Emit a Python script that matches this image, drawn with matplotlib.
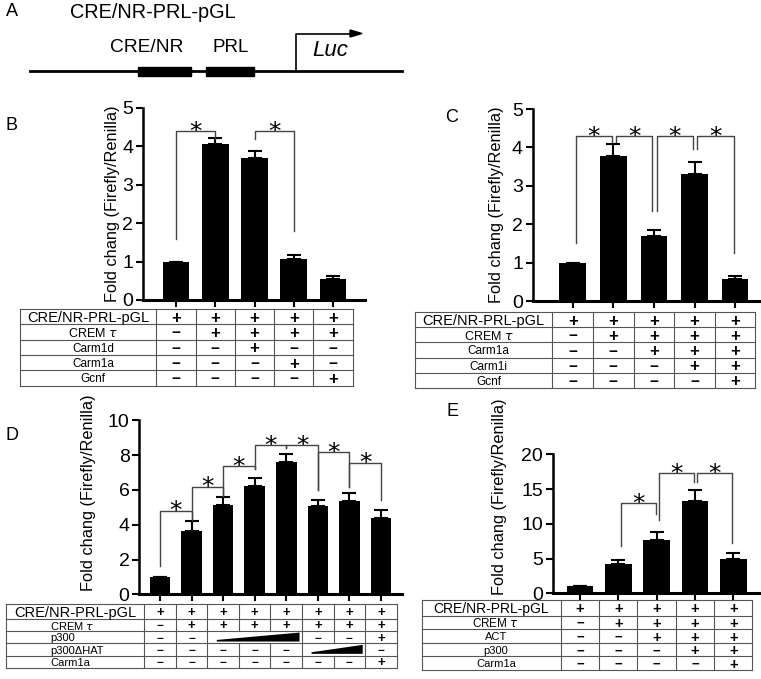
import numpy as np
import matplotlib
matplotlib.use('Agg')
import matplotlib.pyplot as plt
from matplotlib.patches import Rectangle, Polygon

W, H = 761, 679
plt.rcParams['font.family'] = ['Liberation Sans', 'DejaVu Sans']

# ---- data ----
B_rows = ['CRE/NR-PRL-pGL', 'CREM $\\tau$', 'Carm1d', 'Carm1a', 'Gcnf']
B_table = ['+++++', '-++++', '--+--', '---+-', '----+']
B_mean = [1.0, 4.07, 3.70, 1.07, 0.55]
B_sem = [0.0, 0.15, 0.18, 0.10, 0.08]
# (bar i, bar j, bracket top, left leg end, right leg end)
B_sig = [(0, 1, 4.4, 1.6, 4.2), (2, 3, 4.4, 4.2, 1.8)]

C_rows = ['CRE/NR-PRL-pGL', 'CREM $\\tau$', 'Carm1a', 'Carm1i', 'Gcnf']
C_table = ['+++++', '-++++', '--+++', '---++', '----+']
C_mean = [1.0, 3.78, 1.70, 3.30, 0.58]
C_sem = [0.0, 0.30, 0.16, 0.32, 0.07]
C_sig = [(0, 1, 4.3, 1.5, 4.15), (1, 2, 4.3, 4.15, 2.35),
         (2, 3, 4.3, 2.35, 3.95), (3, 4, 4.3, 3.95, 1.25)]

D_rows = ['CRE/NR-PRL-pGL', 'CREM $\\tau$', 'p300', 'p300ΔHAT', 'Carm1a']
D_table = ['++++++++', '-+++++++', '-->>>--+', '----->>-', '-------+']
D_mean = [1.0, 3.65, 5.15, 6.2, 7.6, 5.05, 5.35, 4.4]
D_sem = [0.0, 0.55, 0.42, 0.5, 0.45, 0.35, 0.5, 0.45]
D_sig = [(0, 1, 4.8, 1.6, 4.27), (1, 2, 6.18, 4.27, 5.65), (2, 3, 7.37, 5.65, 7.2),
         (3, 4, 8.58, 7.2, 8.4), (4, 5, 8.58, 8.4, 6.0), (5, 6, 8.16, 6.0, 6.18),
         (6, 7, 7.57, 6.18, 5.42)]

E_rows = ['CRE/NR-PRL-pGL', 'CREM $\\tau$', 'ACT', 'p300', 'Carm1a']
E_table = ['+++++', '-++++', '--+++', '---++', '----+']
E_mean = [1.1, 4.2, 7.6, 13.3, 5.0]
E_sem = [0.0, 0.6, 1.2, 1.5, 0.8]
E_sig = [(1, 2, 12.95, 6.8, 11.4), (2, 3, 17.27, 10.5, 16.05), (3, 4, 17.27, 16.05, 7.2)]

YLAB = 'Fold chang (Firefly/Renilla)'


def box(x0, y0, x1, y1):
    return [x0 / W, 1 - y1 / H, (x1 - x0) / W, (y1 - y0) / H]


def bar_panel(fig, px, tick0, step, mean, sem, width, ymax, yticks, sig, dleg, lab_xy):
    x0, ytop, x1, ybot = px
    ax = fig.add_axes(box(x0, ytop, x1, ybot))
    pos = np.arange(len(mean))
    ax.bar(pos, mean, width, color='black', zorder=2)
    ax.errorbar(pos, mean, yerr=[np.zeros(len(sem)), sem], fmt='none', ecolor='black',
                capsize=5, elinewidth=1.5, capthick=1.5, zorder=3)
    ax.set_xlim((x0 - tick0) / step, (x1 - tick0) / step)
    ax.set_ylim(0, ymax)
    ax.set_yticks(yticks)
    ax.set_xticks(pos)
    ax.set_xticklabels([])
    for s in ['top', 'right']:
        ax.spines[s].set_visible(False)
    ax.spines['left'].set_linewidth(1.8)
    ax.spines['bottom'].set_linewidth(2.2)
    ax.tick_params(axis='y', direction='out', length=5, width=1.5, labelsize=14, pad=2)
    ax.tick_params(axis='x', direction='out', length=5, width=1.5)
    ax.set_ylabel(YLAB, fontsize=11.8)
    ax.yaxis.set_label_coords(*lab_xy)
    for i, j, top, lo_i, lo_j in sig:
        xi, xj = i + dleg, j - dleg / 2
        ax.plot([xi, xi, xj, xj], [lo_i, top, top, lo_j], color='#444444', lw=1.0,
                clip_on=False, zorder=4)
        ax.annotate('*', ((xi + xj) / 2, top), xytext=(0, -5.5), textcoords='offset points',
                    ha='center', va='baseline', fontsize=18, family='DejaVu Sans',
                    annotation_clip=False)
    return ax


def table_panel(fig, left, top, bottom, tick0, step, rows, table, weights=None,
                lab_left=None, fs=8.5, sfs=12, hfs=10.5):
    ncol = len(table[0])
    nrow = len(rows)
    right = tick0 + (ncol - 0.5) * step
    ax = fig.add_axes(box(left, top, right, bottom))
    xl = (left - tick0) / step
    xr = ncol - 0.5
    ax.set_xlim(xl, xr)
    w = np.ones(nrow) if weights is None else np.asarray(weights, float)
    edges = np.concatenate([[0], np.cumsum(w)])
    ax.set_ylim(edges[-1], 0)
    ax.axis('off')
    lc, lw = '#555555', 0.8
    for e in edges:
        ax.plot([xl, xr], [e, e], color=lc, lw=lw, clip_on=False)
    for r in range(nrow):
        ya, yb = edges[r], edges[r + 1]
        ym = (ya + yb) / 2
        vx = [xl, -0.5, xr]
        for c in range(ncol - 1):
            if not (table[r][c] == '>' and table[r][c + 1] == '>'):
                vx.append(c + 0.5)
        for x in vx:
            ax.plot([x, x], [ya, yb], color=lc, lw=lw, clip_on=False)
        # row label
        if r == 0:
            ax.text((xl - 0.5) / 2, ym, rows[r], ha='center', va='center_baseline',
                    fontsize=hfs)
        elif lab_left is not None:
            ax.text((lab_left - tick0) / step, ym, rows[r], ha='left',
                    va='center_baseline', fontsize=fs)
        else:
            ax.text((xl - 0.5) / 2 + 0.12, ym, rows[r], ha='center', va='center_baseline',
                    fontsize=fs + 0.5 if r == 1 else fs)
        # cells
        c = 0
        while c < ncol:
            ch = table[r][c]
            if ch == '>':
                c2 = c
                while c2 + 1 < ncol and table[r][c2 + 1] == '>':
                    c2 += 1
                xa, xb = c - 0.5 + 0.3, c2 + 0.5 - 0.08
                h = yb - ya
                ax.add_patch(Polygon([[xa, ya + 0.85 * h], [xb, ya + 0.85 * h],
                                      [xb, ya + 0.12 * h], [xa, ya + 0.72 * h]],
                                     closed=True, color='black', lw=0))
                c = c2 + 1
                continue
            if ch == '+':
                ax.text(c, ym, '+', ha='center', va='center_baseline', fontsize=sfs,
                        fontweight='bold')
            else:
                ax.text(c, ym, '−', ha='center', va='center_baseline', fontsize=sfs - 1,
                        fontweight='bold')
            c += 1
    return ax


fig = plt.figure(figsize=(W / 100, H / 100), dpi=100)

# ---- panel A: reporter schematic ----
axA = fig.add_axes([0, 1 - 100 / H, 1, 100 / H])
axA.set_xlim(0, W)
axA.set_ylim(100, 0)
axA.axis('off')
axA.plot([30, 402], [71, 71], color='black', lw=2)
axA.add_patch(Rectangle((138, 67), 53, 8.5, color='black'))
axA.add_patch(Rectangle((206, 67), 48, 8.5, color='black'))
axA.plot([296, 296, 352], [71, 33.5, 33.5], color='black', lw=1.2)
axA.add_patch(Polygon([[350, 30], [362, 33.5], [350, 37]], closed=True, color='black'))
axA.text(110, 47, 'CRE/NR', fontsize=13.8, va='center')
axA.text(213, 47, 'PRL', fontsize=13.5, va='center')
axA.text(312, 50, 'Luc', fontsize=16, style='italic', va='center')
axA.text(70, 12, 'CRE/NR-PRL-pGL', fontsize=14.3, va='center')

for letter, x, y in [('A', 6, 12), ('B', 6, 125), ('C', 445, 117), ('D', 6, 435),
                     ('E', 447, 411)]:
    fig.text(x / W, 1 - y / H, letter, fontsize=13, va='center')

# ---- panel B ----
bar_panel(fig, (143, 108, 365, 300), 176, 39.25, B_mean, B_sem, 0.68, 5,
          range(0, 6), B_sig, 0.0, (-0.104, 0.5))
table_panel(fig, 20, 309, 385.5, 176, 39.25, B_rows, B_table)

# ---- panel C ----
bar_panel(fig, (532.7, 109, 760, 301), 572.7, 40.6, C_mean, C_sem, 0.66, 5,
          range(0, 6), C_sig, 0.07, (-0.126, 0.5))
table_panel(fig, 415, 312, 388, 572.7, 40.6, C_rows, C_table)

# ---- panel D ----
bar_panel(fig, (139.3, 420.3, 401.7, 594.3), 160, 31.57, D_mean, D_sem, 0.655, 10,
          range(0, 11, 2), D_sig, 0.0, (-0.164, 0.582))
table_panel(fig, 6, 604, 668, 160, 31.57, D_rows, D_table,
            weights=[1.2, 1, 1, 1, 1], lab_left=50, fs=8, sfs=9.5)

# ---- panel E ----
bar_panel(fig, (552.7, 454.3, 760, 593.3), 580, 38.33, E_mean, E_sem, 0.70, 20,
          range(0, 21, 5), E_sig, 0.06, (-0.22, 0.693))
table_panel(fig, 421.7, 600, 670, 580, 38.33, E_rows, E_table,
            weights=[1.15, 1, 1, 1, 1], fs=8, sfs=10.5, hfs=10)

fig.savefig('out.png', dpi=100)
